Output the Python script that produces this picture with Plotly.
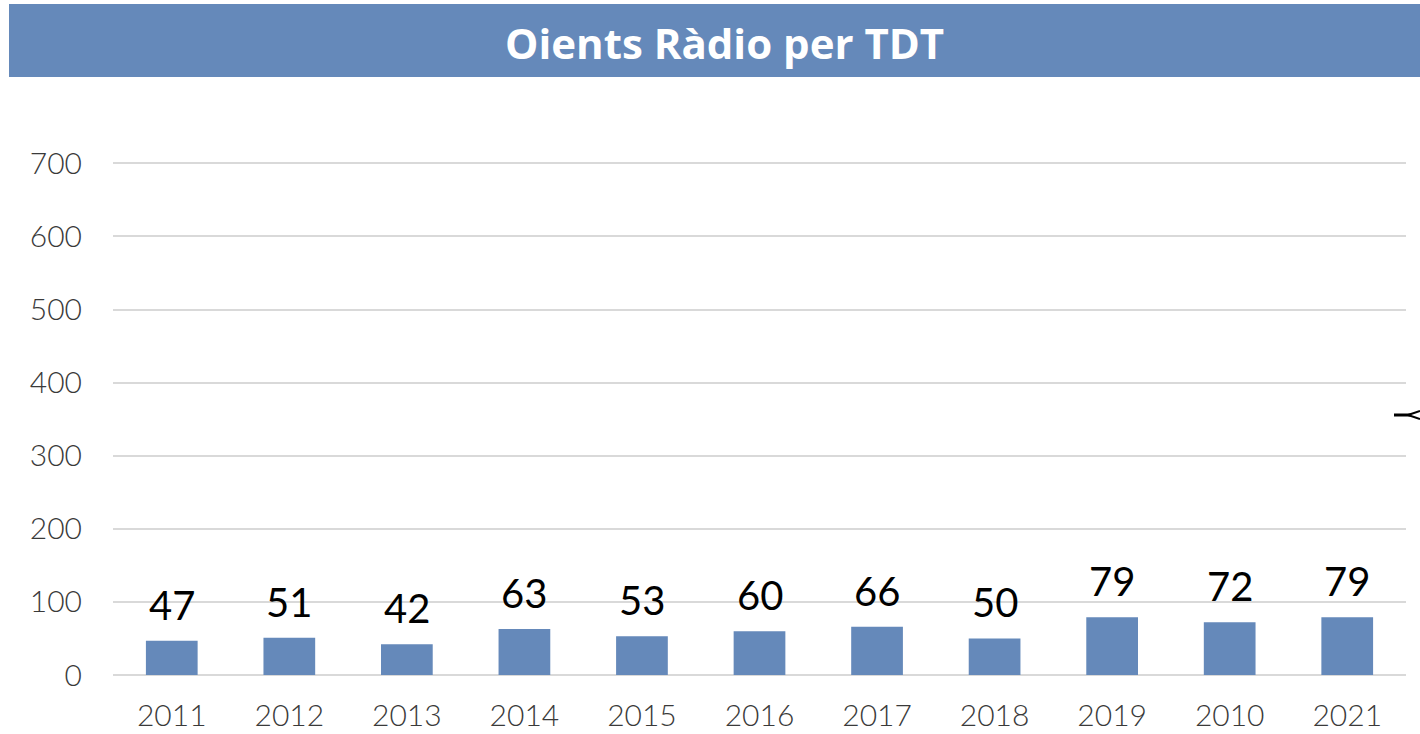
import plotly.graph_objects as go

years = ["2011", "2012", "2013", "2014", "2015", "2016", "2017", "2018", "2019", "2010", "2021"]
values = [47, 51, 42, 63, 53, 60, 66, 50, 79, 72, 79]
y_ticks = [0, 100, 200, 300, 400, 500, 600, 700]
title_text = "Oients Ràdio per TDT"

BLUE = "#6589BA"
W, H = 1420, 734
L, R, T, B = 113, 14, 156, 59
pw = W - L - R
ph = H - T - B

def px(x):
    return (x - L) / pw

def py(y):
    return (H - B - y) / ph

idx = list(range(len(years)))

fig = go.Figure()
fig.add_trace(go.Bar(
    x=idx, y=values, marker=dict(color=BLUE, line=dict(width=0)),
    width=0.44, customdata=years, hovertemplate="%{customdata}: %{y}<extra></extra>",
))

for i, v in zip(idx, values):
    fig.add_annotation(
        x=i, y=v, text=str(v), showarrow=False, yanchor="bottom",
        yshift=10, font=dict(family="Lato", size=40, color="#000000"),
    )

# title bar
fig.add_shape(type="rect", xref="paper", yref="paper",
              x0=px(9), x1=px(1420), y0=py(77), y1=py(4),
              fillcolor=BLUE, line=dict(width=0), layer="below")
fig.add_annotation(xref="paper", yref="paper", x=px(724), y=py(42),
                   text="<b>" + title_text + "</b>", showarrow=False,
                   font=dict(family="Open Sans", size=42, color="#ffffff", weight=800),
                   xanchor="center", yanchor="middle")

# small cut-off connector mark at right edge
fig.add_shape(type="line", xref="paper", yref="paper",
              x0=px(1394), x1=px(1411), y0=py(415), y1=py(415),
              line=dict(color="#000000", width=3))
fig.add_shape(type="line", xref="paper", yref="paper",
              x0=px(1408), x1=px(1420), y0=py(415), y1=py(411),
              line=dict(color="#000000", width=2))
fig.add_shape(type="line", xref="paper", yref="paper",
              x0=px(1408), x1=px(1420), y0=py(415), y1=py(419),
              line=dict(color="#000000", width=2))

fig.update_layout(
    width=W, height=H, margin=dict(l=L, r=R, t=T, b=B, autoexpand=False),
    paper_bgcolor="#ffffff", plot_bgcolor="#ffffff", showlegend=False,
    xaxis=dict(range=[-0.5, len(years) - 0.5], tickvals=idx, ticktext=years,
               showgrid=False, showline=False, zeroline=False, ticks="",
               tickfont=dict(family="Lato", size=30, color="#3a3a3a", weight=300),
               ticklabelstandoff=20),
    yaxis=dict(range=[0, 710], tickvals=y_ticks, showgrid=True,
               gridcolor="#d9d9d9", gridwidth=2, zeroline=True,
               zerolinecolor="#d9d9d9", zerolinewidth=2, showline=False, ticks="",
               tickfont=dict(family="Lato", size=30, color="#3a3a3a", weight=300),
               ticklabelstandoff=30),
)

fig.write_html("out.html", config={"displayModeBar": False},
               post_script="document.body.style.margin='0';document.body.style.overflow='hidden';")
